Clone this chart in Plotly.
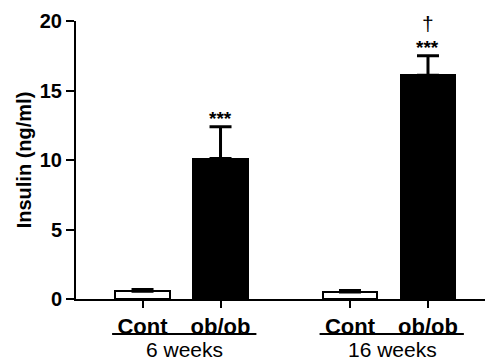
import plotly.graph_objects as go

# ---- data ----
groups = ["6 weeks", "16 weeks"]
conditions = ["Cont", "ob/ob", "Cont", "ob/ob"]
x_pos = [1, 2, 3.66, 4.66]
insulin_mean = [0.55, 10.1, 0.5, 16.1]
insulin_err = [0.13, 2.3, 0.12, 1.4]
bar_fill = ["white", "black", "white", "black"]
star_labels = ["", "***", "", "***"]
dagger_labels = ["", "", "", "†"]
y_ticks = [0, 5, 10, 15, 20]

FONT = "Liberation Sans, Arial, sans-serif"
PLOT_H = 362 - 21 - 63

fig = go.Figure()
fig.add_trace(go.Bar(
    x=x_pos, y=insulin_mean, width=0.70,
    marker=dict(color=bar_fill, line=dict(color="black", width=2)),
    error_y=dict(type="data", symmetric=False, array=insulin_err,
                 arrayminus=[0] * len(insulin_err),
                 color="black", thickness=3, width=11),
    showlegend=False, hoverinfo="skip",
))

for xp, m, e, s, d in zip(x_pos, insulin_mean, insulin_err, star_labels, dagger_labels):
    if s:
        fig.add_annotation(x=xp, y=m + e, text=s, showarrow=False,
                           yanchor="bottom", yshift=-4,
                           font=dict(family=FONT, size=19, color="black", weight="bold"))
    if d:
        fig.add_annotation(x=xp, y=m + e, text=d, showarrow=False,
                           yanchor="bottom", yshift=19,
                           font=dict(family=FONT, size=21, color="black"))

# group labels + underlines
pairs = [(x_pos[0], x_pos[1]), (x_pos[2], x_pos[3])]
for g, (a, b) in zip(groups, pairs):
    fig.add_shape(type="line", xref="x", yref="paper", x0=a - 0.39, x1=b + 0.46,
                  y0=-35 / PLOT_H, y1=-35 / PLOT_H,
                  line=dict(color="black", width=2))
    fig.add_annotation(x=(a + b) / 2 + 0.04, y=0, yref="y", text=g, showarrow=False,
                       yanchor="middle", yshift=-50,
                       font=dict(family=FONT, size=21, color="black"))

fig.update_layout(
    width=485, height=362,
    margin=dict(l=76, r=0, t=21, b=63),
    paper_bgcolor="white", plot_bgcolor="white",
    bargap=0,
    xaxis=dict(range=[0.147, 5.391], tickmode="array", tickvals=x_pos,
               ticktext=conditions, showline=True, linecolor="black", linewidth=2,
               ticks="outside", ticklen=7, tickwidth=2, tickcolor="black",
               showgrid=False, zeroline=False, automargin=False,
               tickfont=dict(family=FONT, size=22, color="black", weight="bold")),
    yaxis=dict(range=[0, 20], tickvals=y_ticks, showline=True, linecolor="black",
               linewidth=2, ticks="outside", ticklen=8, tickwidth=2, tickcolor="black",
               showgrid=False, zeroline=False, automargin=False,
               tickfont=dict(family=FONT, size=20, color="black", weight="bold"),
               title=dict(text="Insulin (ng/ml)", standoff=3,
                          font=dict(family=FONT, size=20, color="black", weight="bold"))),
)

fig.write_html("out.html", config={"displayModeBar": False},
               post_script="document.body.style.margin='0';document.body.style.overflow='hidden';")
